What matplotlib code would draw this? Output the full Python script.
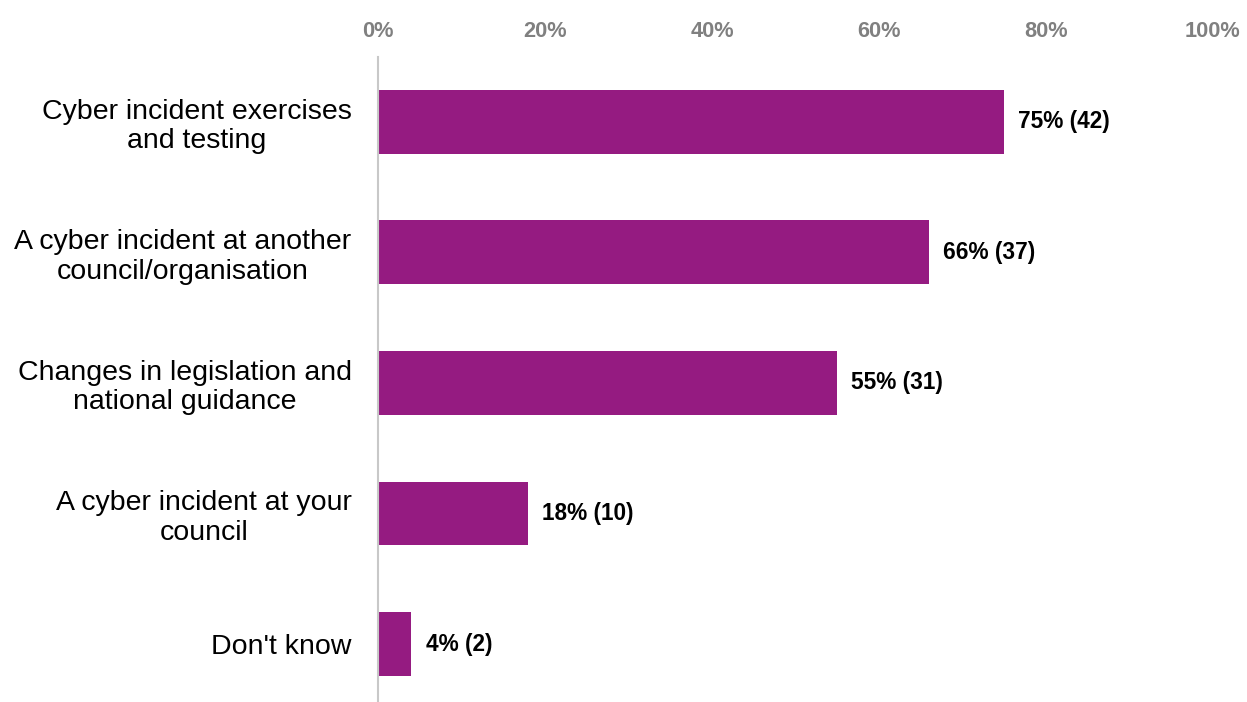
import matplotlib
matplotlib.use("Agg")
import matplotlib.pyplot as plt
from matplotlib.ticker import FuncFormatter

plt.rcParams['font.family'] = ['Liberation Sans', 'DejaVu Sans']

categories = [
    "Cyber incident exercises\nand testing",
    "A cyber incident at another\ncouncil/organisation",
    "Changes in legislation and\nnational guidance",
    "A cyber incident at your\ncouncil",
    "Don't know",
]
percents = [75, 66, 55, 18, 4]
counts = [42, 37, 31, 10, 2]
ticks = [0, 20, 40, 60, 80, 100]

bar_color = "#951B81"

fig = plt.figure(figsize=(12.47, 7.02), dpi=100)
ax = fig.add_axes([0.3031, 0.0, 0.9727 - 0.3031, 0.919])

y = list(range(len(categories)))
ax.barh(y, percents, height=0.49, color=bar_color)

for yi, p, c in zip(y, percents, counts):
    ax.text(p + 1.7, yi, f"{p}% ({c})", va="center", ha="left",
            fontsize=16.3, fontweight="bold", color="black")

ax.set_xlim(0, 100)
ax.set_ylim(4.444, -0.498)
ax.set_xticks(ticks)
ax.xaxis.set_major_formatter(FuncFormatter(lambda v, _: f"{v:.0f}%"))
ax.xaxis.tick_top()
ax.tick_params(axis="x", length=0, pad=11, labelsize=15.7, labelcolor="#808080")
for lbl in ax.get_xticklabels():
    lbl.set_fontweight("bold")

ax.set_yticks(y)
ax.set_yticklabels(categories, fontsize=20.5, ha="right", linespacing=1.17)
for lbl in ax.get_yticklabels():
    lbl.set_multialignment("center")
ax.tick_params(axis="y", length=0, pad=19)

for side in ["top", "right", "bottom"]:
    ax.spines[side].set_visible(False)
ax.spines["left"].set_color("#C8C8C8")
ax.spines["left"].set_linewidth(1.5)

fig.savefig("out.png", dpi=100)
